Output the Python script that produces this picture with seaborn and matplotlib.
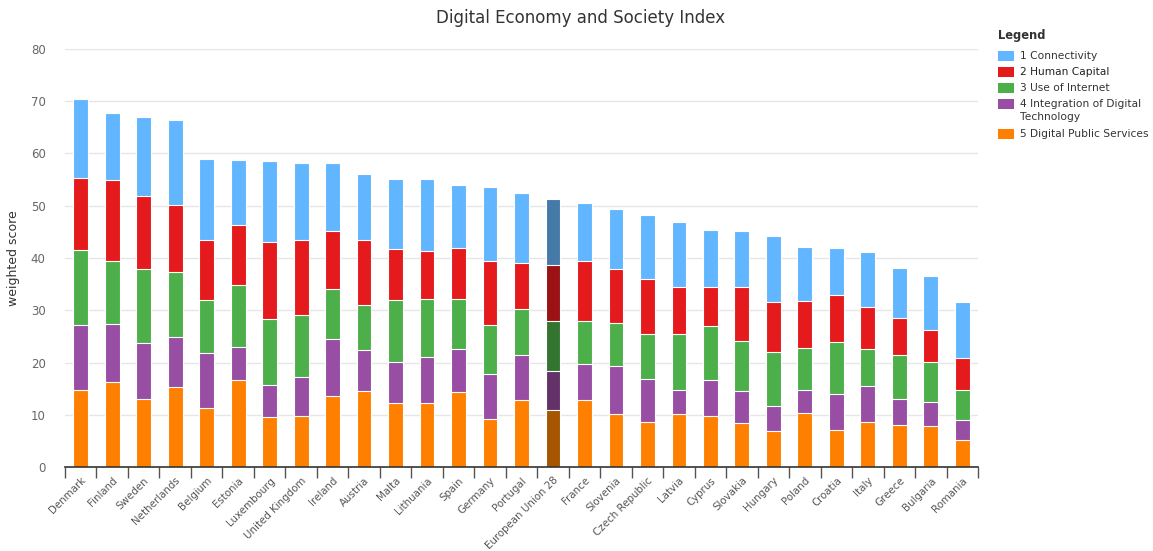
import matplotlib
matplotlib.use("Agg")
import matplotlib.pyplot as plt
import seaborn as sns
import numpy as np
import pandas as pd
from matplotlib.patches import Rectangle

countries = ["Denmark", "Finland", "Sweden", "Netherlands", "Belgium", "Estonia",
             "Luxembourg", "United Kingdom", "Ireland", "Austria", "Malta", "Lithuania",
             "Spain", "Germany", "Portugal", "European Union 28", "France", "Slovenia",
             "Czech Republic", "Latvia", "Cyprus", "Slovakia", "Hungary", "Poland",
             "Croatia", "Italy", "Greece", "Bulgaria", "Romania"]

digital_public_services = [14.7, 16.2, 13.0, 15.3, 11.2, 16.7, 9.6, 9.8, 13.5, 14.6, 12.2, 12.3,
                           14.3, 9.2, 12.9, 10.9, 12.9, 10.2, 8.7, 10.2, 9.8, 8.4, 6.9, 10.3,
                           7.1, 8.7, 8.0, 7.8, 5.1]
integration_digital_tech = [12.5, 11.1, 10.7, 9.6, 10.6, 6.3, 6.0, 7.4, 11.0, 7.8, 7.9, 8.8,
                            8.3, 8.6, 8.5, 7.4, 6.9, 9.2, 8.2, 4.5, 6.9, 6.1, 4.7, 4.4,
                            6.9, 6.8, 5.0, 4.6, 3.9]
use_of_internet = [14.4, 12.2, 14.2, 12.4, 10.2, 11.9, 12.8, 11.9, 9.6, 8.7, 11.8, 11.1,
                   9.6, 9.4, 8.8, 9.6, 8.1, 8.1, 8.5, 10.8, 10.3, 9.7, 10.4, 8.0,
                   9.9, 7.1, 8.4, 7.7, 5.7]
human_capital = [13.7, 15.4, 13.9, 12.9, 11.5, 11.5, 14.7, 14.3, 11.1, 12.4, 9.9, 9.1,
                 9.8, 12.2, 8.8, 10.8, 11.6, 10.4, 10.6, 8.9, 7.5, 10.2, 9.6, 9.1,
                 9.1, 8.0, 7.2, 6.2, 6.1]
connectivity = [15.2, 12.8, 15.1, 16.2, 15.5, 12.4, 15.5, 14.7, 12.9, 12.6, 13.4, 13.9,
                11.9, 14.2, 13.5, 12.5, 11.0, 11.5, 12.3, 12.5, 10.9, 10.7, 12.7, 10.4,
                9.0, 10.5, 9.5, 10.3, 10.7]

series_names = ["1 Connectivity", "2 Human Capital", "3 Use of Internet",
                "4 Integration of Digital\nTechnology", "5 Digital Public Services"]
series_colors = ["#62b6ff", "#e41a1c", "#4daf4a", "#984ea3", "#ff7f00"]
highlight_colors = ["#4479a8", "#9a1214", "#337530", "#633268", "#a65500"]
highlight_country = "European Union 28"

df = pd.DataFrame({
    "country": countries,
    "s5": digital_public_services,
    "s4": integration_digital_tech,
    "s3": use_of_internet,
    "s2": human_capital,
    "s1": connectivity,
})
# cumulative stacks (bottom to top: s5, s4, s3, s2, s1)
df["c5"] = df["s5"]
df["c4"] = df["c5"] + df["s4"]
df["c3"] = df["c4"] + df["s3"]
df["c2"] = df["c3"] + df["s2"]
df["c1"] = df["c2"] + df["s1"]

sns.set_theme(style="white")
plt.rcParams["font.family"] = ["DejaVu Sans"]

W, H = 1153, 551
fig = plt.figure(figsize=(W / 100, H / 100), dpi=100)
ax = fig.add_axes([65 / W, 1 - 467 / H, (978 - 65) / W, (467 - 49) / H])

for k, col in enumerate(["c1", "c2", "c3", "c4", "c5"]):
    pal = [highlight_colors[k] if c == highlight_country else series_colors[k] for c in countries]
    sns.barplot(data=df, x="country", y=col, hue="country", palette=pal, legend=False,
                width=0.47, edgecolor="white", linewidth=0.8, ax=ax, order=countries,
                hue_order=countries, saturation=1, zorder=3)

ax.set_ylim(0, 80)
ax.set_xlim(-0.5, len(countries) - 0.5)
ax.set_yticks(np.arange(0, 81, 10))
ax.yaxis.grid(True, color="#e6e6e6", linewidth=1, zorder=0)
ax.xaxis.grid(False)
for s in ["top", "right", "left"]:
    ax.spines[s].set_visible(False)
ax.spines["bottom"].set_color("#333333")
ax.spines["bottom"].set_linewidth(1.2)
ax.spines["bottom"].set_zorder(5)

ax.tick_params(axis="y", length=0, pad=14, labelsize=8.5, labelcolor="#666666")
ax.set_xticks(range(len(countries)))
ax.set_xticklabels(countries, rotation=45, ha="right", rotation_mode="anchor",
                   fontsize=7.4, color="#555555")
ax.tick_params(axis="x", which="major", length=0, pad=6)
ax.set_xticks(np.arange(-0.5, len(countries), 1.0), minor=True)
ax.tick_params(axis="x", which="minor", length=8, width=1, color="#555555", direction="out",
               bottom=True)
ax.set_xlabel("")
ax.set_ylabel("weighted score", fontsize=9, color="#333333", labelpad=8)

fig.text(581 / W, 1 - 18 / H, "Digital Economy and Society Index", ha="center", va="center",
         fontsize=12, color="#333333")

# legend
def fy(y):
    return 1 - y / H

fig.text(998 / W, fy(36), "Legend", ha="left", va="center", fontsize=8.3,
         fontweight="bold", color="#333333")
item_y = [56, 72, 88, 104, 134]
for i, (name, colr) in enumerate(zip(series_names, series_colors)):
    y = item_y[i]
    fig.add_artist(Rectangle((998 / W, fy(y + 5)), 16 / W, 10 / H, transform=fig.transFigure,
                             facecolor=colr, edgecolor="none"))
    lines = name.split("\n")
    for j, ln in enumerate(lines):
        fig.text(1020 / W, fy(y + 13 * j), ln, ha="left", va="center", fontsize=7.7,
                 color="#222222" if i == 1 else "#333333")

fig.savefig("out.png", dpi=100)
